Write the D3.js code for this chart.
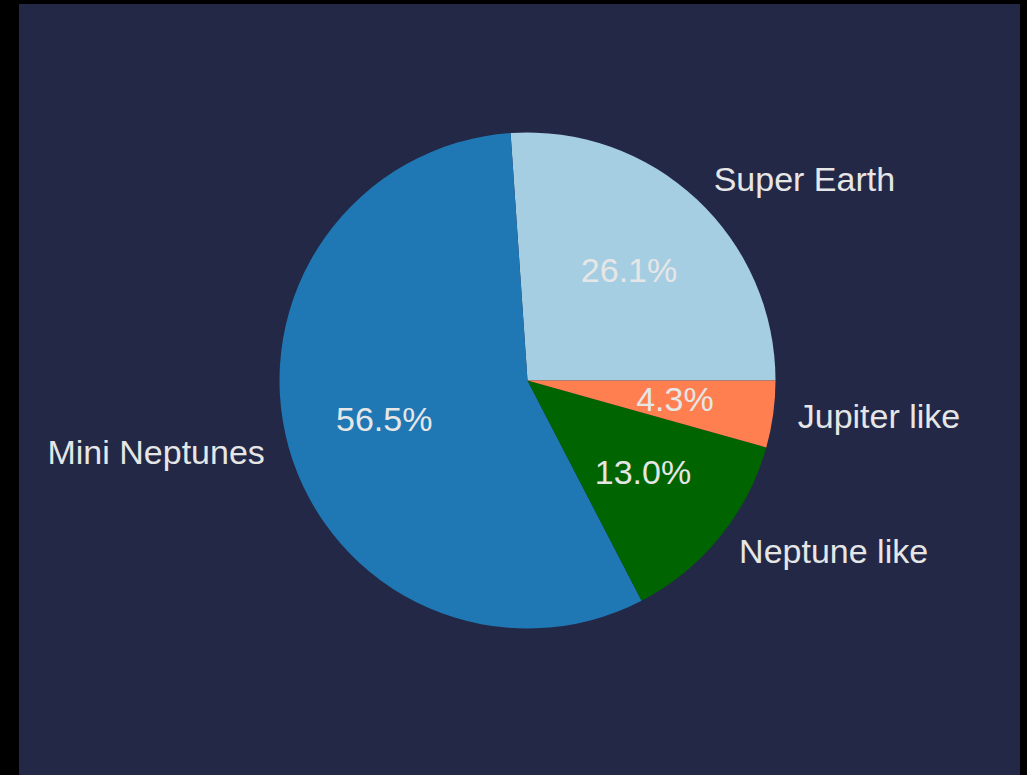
<!DOCTYPE html>
<html>
<head>
<meta charset="utf-8">
<script src="https://cdn.jsdelivr.net/npm/d3@7"></script>
<style>
  html, body { margin: 0; padding: 0; background: #000; }
  svg { display: block; }
</style>
</head>
<body>
<svg id="chart" width="1027" height="775"></svg>
<script>
// Exoplanet types in the sample (planet counts)
const categories = ["Super Earth", "Mini Neptunes", "Neptune like", "Jupiter like"];
const counts = [6, 13, 3, 1];
const colors = ["#a6cee3", "#1f78b4", "#006400", "#ff7f50"];

const W = 1027, H = 775;
const svg = d3.select("#chart");

// figure panel
svg.append("rect")
  .attr("x", 19).attr("y", 4)
  .attr("width", 1001).attr("height", H - 4)
  .attr("fill", "#222846");

const cx = 527.5, cy = 380.5, R = 248;
const fontSize = 34;
const textColor = "#e6e6e6";

// start at 3 o'clock and run counter-clockwise
const pie = d3.pie()
  .sort(null)
  .value(d => d.value)
  .startAngle(Math.PI / 2)
  .endAngle(Math.PI / 2 - 2 * Math.PI);

const data = categories.map((c, i) => ({ name: c, value: counts[i], color: colors[i] }));
const arcs = pie(data);
const total = d3.sum(counts);

const arc = d3.arc().innerRadius(0).outerRadius(R);

const g = svg.append("g").attr("transform", `translate(${cx},${cy})`);

g.selectAll("path.slice")
  .data(arcs)
  .join("path")
  .attr("class", "slice")
  .attr("d", arc)
  .attr("fill", d => d.data.color);

const mid = d => (d.startAngle + d.endAngle) / 2;
const pos = (d, k) => [Math.sin(mid(d)) * R * k, -Math.cos(mid(d)) * R * k];

// category labels outside the pie
g.selectAll("text.label")
  .data(arcs)
  .join("text")
  .attr("class", "label")
  .attr("x", d => pos(d, 1.1)[0])
  .attr("y", d => pos(d, 1.1)[1])
  .attr("dy", "0.29em")
  .attr("text-anchor", d => pos(d, 1.1)[0] >= 0 ? "start" : "end")
  .attr("font-family", "'Liberation Sans', Arial, sans-serif")
  .attr("font-size", fontSize)
  .attr("fill", textColor)
  .text(d => d.data.name);

// percentages inside the slices
const pct = d3.format(".1f");
g.selectAll("text.pct")
  .data(arcs)
  .join("text")
  .attr("class", "pct")
  .attr("x", d => pos(d, 0.6)[0])
  .attr("y", d => pos(d, 0.6)[1])
  .attr("dy", "0.29em")
  .attr("text-anchor", "middle")
  .attr("font-family", "'Liberation Sans', Arial, sans-serif")
  .attr("font-size", fontSize)
  .attr("fill", textColor)
  .text(d => pct(d.value / total * 100) + "%");
</script>
</body>
</html>
